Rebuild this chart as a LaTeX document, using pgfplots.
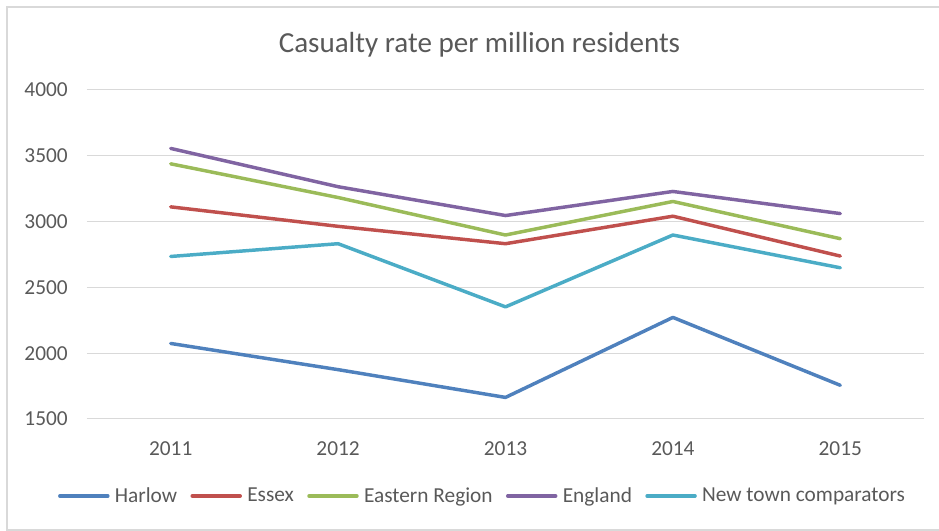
\documentclass[border=0pt]{standalone}
\usepackage{fontspec}
\setmainfont{Carlito}
\usepackage{pgfplots}
\pgfplotsset{compat=1.18}
\definecolor{cHarlow}{HTML}{4F81BD}
\definecolor{cEssex}{HTML}{C0504D}
\definecolor{cEast}{HTML}{9BBB59}
\definecolor{cEng}{HTML}{8064A2}
\definecolor{cNew}{HTML}{4BACC6}
\definecolor{txt}{HTML}{595959}
\definecolor{gridc}{HTML}{D9D9D9}
\begin{document}
\begin{tikzpicture}
\useasboundingbox (0,0) rectangle (704.25pt,398.25pt);
\draw[gridc, line width=1.2pt] (705pt,393pt) -- (5.25pt,393pt) -- (5.25pt,0.75pt) -- (705pt,0.75pt);
\node[font=\fontsize{21.8}{26}\selectfont, text=txt, anchor=base] at (359.6pt,358.5pt) {Casualty rate per million residents};
\begin{axis}[
  at={(65.25pt,84pt)}, anchor=south west,
  scale only axis, width=627.75pt, height=246.75pt,
  xmin=-0.5, xmax=4.5, ymin=1500, ymax=4000,
  xtick={0,1,2,3,4}, xticklabels={2011,2012,2013,2014,2015},
  ytick={1500,2000,2500,3000,3500,4000},
  xmajorgrids=false, ymajorgrids=true,
  y grid style={gridc, line width=0.75pt},
  axis line style={draw=none},
  major tick length=0pt,
  /pgf/number format/assume math mode=true,
  /pgf/number format/1000 sep={},
  tick label style={font=\fontsize{16}{19}\selectfont, text=txt, inner sep=0pt},
  yticklabel style={anchor=east, xshift=-14.25pt},
  xticklabel style={anchor=center, yshift=-22.5pt},
  legend columns=5,
  legend style={at={(axis description cs:0.473,-0.234)}, anchor=center, draw=none, fill=none,
    font=\fontsize{16}{19}\selectfont, text=txt,
    /tikz/every even column/.append style={column sep=8pt},
    /tikz/every odd column/.append style={column sep=2pt}},
  legend cell align=left,
  legend image code/.code={\draw[#1, line cap=round] (0pt,0pt) -- (36pt,0pt);},
  every axis plot/.append style={line width=2.6pt, line join=round, line cap=round},
]
\addplot[cHarlow] coordinates {(0,2074) (1,1875) (2,1664) (3,2272) (4,1756)};
\addlegendentry{Harlow}
\addplot[cEssex] coordinates {(0,3112) (1,2964) (2,2832) (3,3041) (4,2738)};
\addlegendentry{Essex}
\addplot[cEast] coordinates {(0,3439) (1,3183) (2,2898) (3,3153) (4,2870)};
\addlegendentry{Eastern Region}
\addplot[cEng] coordinates {(0,3556) (1,3265) (2,3046) (3,3229) (4,3061)};
\addlegendentry{England}
\addplot[cNew] coordinates {(0,2735) (1,2832) (2,2352) (3,2898) (4,2649)};
\addlegendentry{New town comparators}
\end{axis}
\end{tikzpicture}
\end{document}
